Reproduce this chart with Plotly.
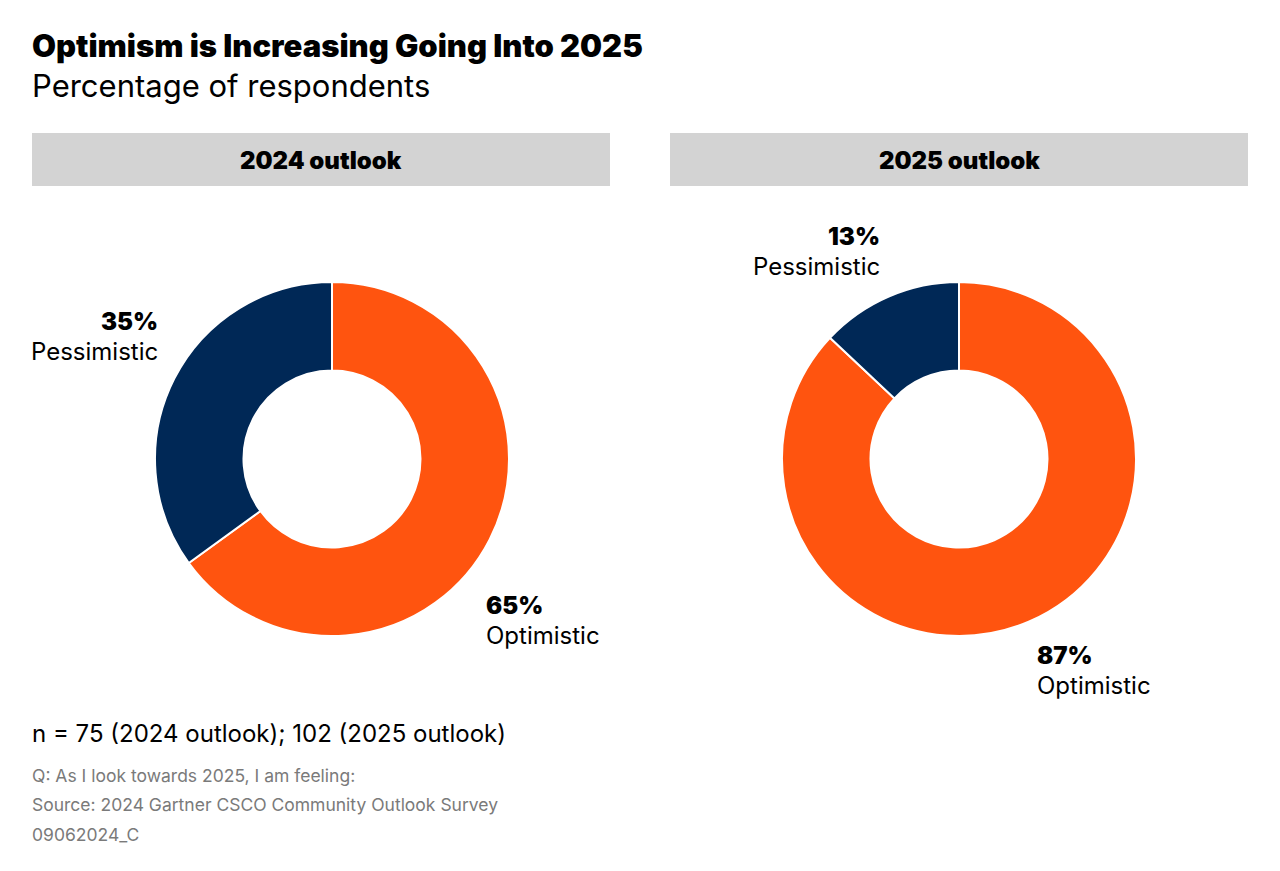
import plotly.graph_objects as go

W, H = 1280, 871

labels = ["Optimistic", "Pessimistic"]
values_2024 = [65, 35]
values_2025 = [87, 13]
panel_titles = ["2024 outlook", "2025 outlook"]
colors = ["#FF540F", "#002856"]

title = "Optimism is Increasing Going Into 2025"
subtitle = "Percentage of respondents"
note_n = "n = 75 (2024 outlook); 102 (2025 outlook)"
footnotes = ["Q: As I look towards 2025, I am feeling:",
             "Source: 2024 Gartner CSCO Community Outlook Survey",
             "09062024_C"]

FONT = "Inter"


def px(x):
    return x / W


def py(y):
    return 1 - y / H


fig = go.Figure()

for vals, (x0, x1) in [(values_2024, (155, 509)), (values_2025, (782, 1136))]:
    fig.add_trace(go.Pie(
        labels=labels, values=vals, hole=0.5, sort=False, direction="clockwise",
        rotation=0, textinfo="none", hoverinfo="label+percent",
        marker=dict(colors=colors, line=dict(color="white", width=2)),
        domain=dict(x=[px(x0), px(x1)], y=[py(636), py(282)]),
        showlegend=False,
    ))

shapes = []
annotations = []

# header bars
for (x0, x1), t in zip([(32, 610), (670, 1248)], panel_titles):
    shapes.append(dict(type="rect", xref="paper", yref="paper",
                       x0=px(x0), x1=px(x1), y0=py(186), y1=py(133),
                       fillcolor="#D3D3D3", line=dict(width=0), layer="below"))
    annotations.append(dict(x=px((x0 + x1) / 2), y=py(161), xref="paper", yref="paper",
                            text=t, showarrow=False, xanchor="center", yanchor="middle",
                            font=dict(family=FONT, size=24, color="#000", weight=900)))

# title / subtitle
annotations.append(dict(x=px(30), y=py(46), xref="paper", yref="paper", text=title,
                        showarrow=False, xanchor="left", yanchor="middle",
                        font=dict(family=FONT, size=31, color="#000", weight=900)))
annotations.append(dict(x=px(30), y=py(86), xref="paper", yref="paper", text=subtitle,
                        showarrow=False, xanchor="left", yanchor="middle",
                        font=dict(family=FONT, size=31, color="#000")))

# slice labels
def slice_label(x, y, pct, name, anchor):
    annotations.append(dict(x=px(x), y=py(y), xref="paper", yref="paper", text=f"{pct}%",
                            showarrow=False, xanchor=anchor, yanchor="middle",
                            font=dict(family=FONT, size=24, color="#000", weight=900)))
    annotations.append(dict(x=px(x), y=py(y + 30), xref="paper", yref="paper", text=name,
                            showarrow=False, xanchor=anchor, yanchor="middle",
                            font=dict(family=FONT, size=24, color="#000")))

slice_label(160, 322, values_2024[1], labels[1], "right")
slice_label(484, 605, values_2024[0], labels[0], "left")
slice_label(882, 237, values_2025[1], labels[1], "right")
slice_label(1035, 655, values_2025[0], labels[0], "left")

annotations.append(dict(x=px(30), y=py(733), xref="paper", yref="paper", text=note_n,
                        showarrow=False, xanchor="left", yanchor="middle",
                        font=dict(family=FONT, size=24, color="#000")))
for i, t in enumerate(footnotes):
    annotations.append(dict(x=px(30), y=py(775 + 29.5 * i), xref="paper", yref="paper", text=t,
                            showarrow=False, xanchor="left", yanchor="middle",
                            font=dict(family=FONT, size=17.5, color="#7A7A7A")))

fig.update_layout(width=W, height=H, margin=dict(l=0, r=0, t=0, b=0),
                  paper_bgcolor="white", plot_bgcolor="white",
                  shapes=shapes, annotations=annotations)

fig.write_html("out.html")
